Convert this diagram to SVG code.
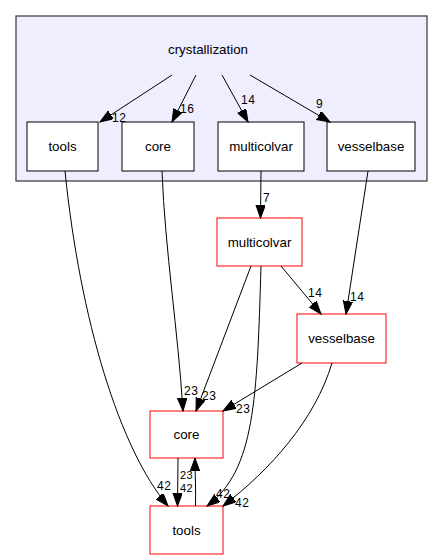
<svg xmlns="http://www.w3.org/2000/svg" width="443" height="560" viewBox="0 0 443 560">
<defs>
<style>
.cl{fill:#eeeeff;stroke:#444444;stroke-width:1.3}
.n{fill:#ffffff;stroke:#000000;stroke-width:1}
.r{fill:#ffffff;stroke:#ff0000;stroke-width:1}
.t{font-family:"Liberation Sans",Arial,sans-serif;font-size:13.33px;fill:#000000;text-anchor:middle}
.e{fill:none;stroke:#000000;stroke-width:1;marker-end:url(#ah)}
.l{font-family:"Liberation Sans",Arial,sans-serif;font-size:12px;letter-spacing:0.5px;fill:#000000}
.s{font-size:11px}
</style>
<marker id="ah" markerUnits="userSpaceOnUse" markerWidth="14" markerHeight="11" refX="13" refY="4.7" orient="auto">
<path d="M0,0 L13,4.7 L0,9.4 z" fill="#000000" stroke="#000000" stroke-width="1"/>
</marker>
</defs>
<rect width="443" height="560" fill="#ffffff"/>
<g id="cluster_crystallization">
<rect class="cl" x="16" y="16" width="411" height="165"/>
<text class="t" x="208" y="54">crystallization</text>
</g>
<g id="node_c_tools"><rect class="n" x="27" y="122" width="71" height="49"/><text class="t" x="62.5" y="151">tools</text></g>
<g id="node_c_core"><rect class="n" x="122" y="122" width="72" height="49"/><text class="t" x="158" y="151">core</text></g>
<g id="node_c_multicolvar"><rect class="n" x="218" y="122" width="86" height="49"/><text class="t" x="261" y="151">multicolvar</text></g>
<g id="node_c_vesselbase"><rect class="n" x="327" y="122" width="88" height="49"/><text class="t" x="371" y="151">vesselbase</text></g>
<g id="node_multicolvar"><rect class="r" x="217" y="218" width="85" height="48"/><text class="t" x="259.5" y="247">multicolvar</text></g>
<g id="node_vesselbase"><rect class="r" x="297" y="314" width="89" height="49"/><text class="t" x="341.5" y="343">vesselbase</text></g>
<g id="node_core"><rect class="r" x="150" y="411" width="73" height="47"/><text class="t" x="186.5" y="439">core</text></g>
<g id="node_tools"><rect class="r" x="150" y="506" width="73" height="48"/><text class="t" x="186.5" y="535">tools</text></g>
<g id="edges">
<path class="e" d="M172,75 L100,122"/>
<text class="l" x="112" y="122">12</text>
<path class="e" d="M196,75 L172,122"/>
<text class="l" x="180" y="113">16</text>
<path class="e" d="M222,75 L248,122"/>
<text class="l" x="241" y="104">14</text>
<path class="e" d="M250,75 L330,122"/>
<text class="l" x="316" y="108">9</text>
<path class="e" d="M261,171 L260.5,218"/>
<text class="l" x="263" y="202">7</text>
<path class="e" d="M368,171 L346,314"/>
<text class="l" x="350" y="301">14</text>
<path class="e" d="M281,266 L321,314"/>
<text class="l" x="308" y="297">14</text>
<path class="e" d="M251,266 L196,411"/>
<text class="l" x="202" y="400">23</text>
<path class="e" d="M261,266 C257,400 255,470 207,506"/>
<text class="l" x="216" y="498">42</text>
<path class="e" d="M65,171 C80,320 120,450 168,506"/>
<text class="l" x="157" y="490">42</text>
<path class="e" d="M162,171 C165,250 178,330 183,411"/>
<text class="l" x="184" y="395">23</text>
<path class="e" d="M302,363 L223,411"/>
<text class="l" x="236" y="413">23</text>
<path class="e" d="M332,363 C315,420 270,470 223,506"/>
<text class="l" x="235" y="507">42</text>
<path class="e" d="M178,458 L177.5,506"/>
<text class="l s" x="180" y="478.5">23</text>
<text class="l s" x="180" y="491.5">42</text>
<path class="e" d="M195.5,506 C196,490 195,475 195,458"/>
</g>
</svg>
